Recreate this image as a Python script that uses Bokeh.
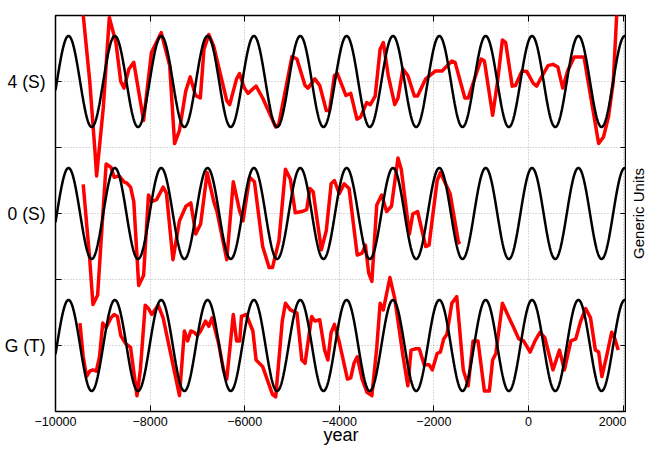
import numpy as np
from bokeh.plotting import figure
from bokeh.layouts import row
from bokeh.models import LinearAxis, FixedTicker
from bokeh.embed import file_html
from bokeh.resources import INLINE

# ---------------- data ----------------
x_ticks = [-10000, -8000, -6000, -4000, -2000, 0, 2000]
y_ticks = [0, 1, 2, 3, 4, 5, 6]
y_label_ticks = [1, 3, 5]
y_plain_ticks = [0, 2, 4, 6]
y_tick_labels = {1: "G (T)", 3: "0 (S)", 5: "4 (S)"}
panel_base = {"4 (S)": 5, "0 (S)": 3, "G (T)": 1}

# model sinusoid parameters (same in every panel)
model_period = 980
model_peak_year = -9725
model_amplitude = 0.69

# red series: top panel "4 (S)"
top_years = [-9483, -9276, -9172, -9131, -8990, -8862, -8723, -8620, -8552, -8448,
             -8345, -8241, -8138, -7972, -7765, -7586, -7482, -7379, -7248, -7151,
             -7041, -6938, -6861, -6758, -6654, -6379, -6317, -6172, -6110, -6007,
             -5930, -5759, -5620, -5345, -5283, -5000, -4896, -4724, -4662, -4517,
             -4414, -4275, -4207, -4103, -4041, -3861, -3758, -3627, -3551, -3421,
             -3344, -3241, -3137, -3069, -2965, -2827, -2759, -2655, -2552, -2413,
             -2345, -2173, -1966, -1827, -1621, -1552, -1345, -1275, -1000, -932,
             -758, -654, -551, -483, -344, -276, -137, -34, 103, 173,
             277, 413, 517, 620, 724, 827, 966, 1173, 1344, 1483,
             1586, 1690, 1793, 1862, 1917]
top_vals = [1.51, 0.00, -0.99, -1.43, -0.40, 0.97, 0.59, 0.00, -0.10, 0.19,
            0.29, -0.15, -0.59, 0.44, 0.74, 0.24, -0.94, -0.74, -0.15, 0.07,
            -0.21, -0.25, 0.49, 0.71, 0.53, -0.29, -0.35, 0.04, 0.12, -0.10,
            -0.18, -0.07, -0.25, -0.69, -0.66, 0.38, 0.34, -0.06, -0.10, 0.04,
            -0.06, -0.44, -0.44, 0.09, 0.12, -0.21, -0.18, -0.57, -0.54, -0.32,
            -0.35, -0.22, 0.49, 0.59, 0.09, -0.35, -0.25, 0.19, 0.09, -0.22,
            -0.22, 0.04, 0.16, 0.16, 0.31, 0.29, -0.25, -0.25, 0.34, 0.31,
            -0.51, 0.00, 0.63, 0.59, -0.07, -0.06, 0.16, 0.15, -0.03, -0.07,
            0.07, 0.24, 0.26, 0.22, -0.10, 0.16, 0.37, 0.37, -0.35, -0.94,
            -0.84, -0.54, 0.00, 0.97, 1.51]

# red series: middle panel "0 (S)"
mid_years = [-9414, -9276, -9208, -9110, -8930, -8827, -8759, -8655, -8552, -8490,
             -8413, -8345, -8241, -8138, -8034, -7972, -7863, -7724, -7655, -7517,
             -7379, -7242, -7139, -7035, -6932, -6793, -6654, -6586, -6379, -6241,
             -6104, -6034, -5897, -5794, -5620, -5483, -5413, -5276, -5138, -5034,
             -4931, -4792, -4689, -4621, -4552, -4379, -4275, -4172, -4103, -4000,
             -3897, -3793, -3621, -3518, -3448, -3379, -3311, -3208, -3104, -3000,
             -2897, -2759, -2690, -2517, -2448, -2345, -2173, -2103, -1931, -1863,
             -1656, -1482, -1449]
mid_vals = [0.44, -0.70, -1.38, -1.24, 0.75, 0.70, 0.55, 0.57, 0.48, 0.46,
            0.40, 0.18, -1.09, -0.94, 0.28, 0.18, 0.21, 0.40, 0.31, -0.70,
            -0.11, 0.11, 0.16, -0.31, -0.16, 0.62, 0.18, 0.03, -0.70, 0.48,
            0.03, -0.11, 0.55, 0.48, -0.50, -0.82, -0.82, -0.41, 0.67, 0.52,
            0.01, 0.03, 0.06, 0.38, 0.33, -0.55, -0.26, 0.45, 0.50, 0.30,
            0.45, 0.38, -0.63, -0.60, -0.48, -0.90, -1.03, 0.13, 0.28, 0.03,
            0.11, 0.84, 0.67, -0.31, -0.01, 0.03, -0.50, -0.48, 0.50, 0.62,
            0.30, -0.43, -0.46]

# red series: bottom panel "G (T)"
bot_years = [-9483, -9414, -9344, -9276, -9208, -9137, -9069, -9001, -8930, -8827,
             -8759, -8690, -8620, -8517, -8413, -8277, -8206, -8103, -8034, -7966,
             -7828, -7724, -7552, -7379, -7275, -7207, -7139, -7068, -7000, -6932,
             -6828, -6758, -6690, -6551, -6448, -6379, -6241, -6172, -6104, -6069,
             -5966, -5827, -5759, -5620, -5413, -5345, -5206, -5138, -5034, -4896,
             -4792, -4724, -4585, -4517, -4414, -4310, -4242, -4172, -4103, -4000,
             -3828, -3758, -3690, -3621, -3518, -3414, -3311, -3208, -3137, -3069,
             -2930, -2827, -2759, -2655, -2552, -2483, -2380, -2310, -2206, -2103,
             -2034, -1931, -1863, -1792, -1724, -1621, -1517, -1379, -1275, -1172,
             -1068, -932, -828, -758, -690, -551, -379, -311, -207, -104,
             35, 138, 242, 345, 517, 655, 759, 897, 1000, 1104,
             1208, 1311, 1414, 1483, 1551, 1655, 1758, 1827, 1897]
bot_vals = [0.34, -0.17, -0.47, -0.39, -0.37, -0.39, -0.17, 0.34, 0.27, 0.42,
            0.47, 0.44, 0.15, 0.03, -0.03, -0.76, -0.37, 0.61, 0.56, 0.47,
            0.61, 0.42, -0.17, -0.76, 0.22, 0.07, 0.22, 0.20, 0.15, 0.22,
            0.37, 0.29, 0.42, 0.03, -0.37, -0.51, 0.47, 0.07, 0.07, 0.44,
            0.47, 0.22, -0.22, -0.32, -0.74, -0.78, 0.37, 0.64, 0.54, 0.49,
            -0.22, -0.27, 0.44, 0.37, 0.39, -0.07, -0.22, 0.20, 0.32, 0.05,
            -0.51, -0.49, -0.27, -0.17, -0.51, -0.71, -0.76, -0.03, 0.64, 0.54,
            1.03, 0.71, 0.37, -0.15, -0.61, -0.07, -0.05, -0.05, -0.29, -0.29,
            -0.37, -0.12, -0.10, 0.10, 0.17, 0.64, 0.74, -0.37, -0.61, 0.07,
            0.07, -0.69, -0.69, -0.22, -0.12, 0.64, 0.37, 0.27, 0.10, 0.07,
            -0.10, 0.07, 0.20, 0.12, -0.37, -0.07, -0.37, 0.07, 0.10, 0.37,
            0.56, 0.42, -0.07, -0.10, -0.47, -0.15, 0.20, 0.10, -0.07]

x_start, x_end = -10000, 2072
FONT = "Liberation Sans"
TOP_BORDER = 15
BOTTOM_BORDER = 37


def tick_only_axis(ticks):
    """Axis that draws inward tick marks only (as minor ticks, so no labels)."""
    return LinearAxis(ticker=FixedTicker(ticks=[], minor_ticks=ticks),
                      major_tick_line_color=None, major_label_text_font_size="0px",
                      major_label_standoff=0, major_tick_in=0, major_tick_out=0,
                      minor_tick_in=6, minor_tick_out=0, minor_tick_line_color="black",
                      axis_line_color=None)


# ---------------- main figure ----------------
p = figure(width=626, height=448, output_backend="svg", toolbar_location=None,
           x_range=(x_start, x_end), y_range=(0, 6),
           min_border_left=55, min_border_right=0, min_border_top=TOP_BORDER,
           min_border_bottom=0)
p.background_fill_color = "white"
p.outline_line_color = "black"
p.outline_line_width = 1.5

# grids
p.xgrid.ticker = FixedTicker(ticks=x_ticks)
p.ygrid.ticker = FixedTicker(ticks=y_ticks)
for g in (p.xgrid, p.ygrid):
    g.grid_line_color = "#b5b5b5"
    g.grid_line_dash = "1 2"
    g.grid_line_width = 1

# bottom axis
xa = p.xaxis[0]
xa.ticker = FixedTicker(ticks=x_ticks)
xa.axis_label = "year"
xa.axis_label_text_font = FONT
xa.axis_label_text_font_style = "normal"
xa.axis_label_text_font_size = "18px"
xa.axis_label_text_color = "black"
xa.axis_label_standoff = -4
xa.major_label_text_font = FONT
xa.major_label_text_font_size = "12.5px"
xa.major_label_text_color = "black"
xa.major_label_standoff = 5
xa.major_tick_in = 6
xa.major_tick_out = 0
xa.minor_tick_line_color = None
xa.axis_line_color = None
xa.major_tick_line_color = "black"

# left axis: labelled ticks at panel centres, plain ticks between
ya = p.yaxis[0]
ya.ticker = FixedTicker(ticks=y_label_ticks, minor_ticks=y_plain_ticks)
ya.major_label_overrides = y_tick_labels
ya.major_label_text_font = FONT
ya.major_label_text_font_size = "17.5px"
ya.major_label_text_color = "black"
ya.major_label_standoff = 10
ya.major_tick_in = 6
ya.major_tick_out = 0
ya.minor_tick_in = 6
ya.minor_tick_out = 0
ya.minor_tick_line_color = "black"
ya.axis_line_color = None

# top and right axes: tick marks only
p.add_layout(tick_only_axis(x_ticks), "above")
p.add_layout(tick_only_axis(y_ticks), "right")

# ---------------- data glyphs ----------------
series = [("4 (S)", top_years, top_vals), ("0 (S)", mid_years, mid_vals),
          ("G (T)", bot_years, bot_vals)]
for name, yrs, vals in series:
    base = panel_base[name]
    p.line(yrs, [base + v for v in vals], line_color="#ff0000", line_width=3.5,
           line_join="round")

xs = np.linspace(x_start, x_end, 1500)
for name, _, _ in series:
    base = panel_base[name]
    ys = base + model_amplitude * np.cos(2 * np.pi * (xs - model_peak_year) / model_period)
    p.line(xs, ys, line_color="black", line_width=2.5)

# ---------------- narrow strip carrying the right-hand title ----------------
side = figure(width=20, height=448, output_backend="svg", toolbar_location=None,
              x_range=(0, 1), y_range=(0, 6),
              min_border_left=0, min_border_right=0, min_border_top=TOP_BORDER,
              min_border_bottom=BOTTOM_BORDER)
side.outline_line_color = None
side.xgrid.visible = False
side.ygrid.visible = False
side.xaxis.visible = False
sa = side.yaxis[0]
sa.ticker = FixedTicker(ticks=[])
sa.axis_label = "Generic Units"
sa.axis_label_text_font = FONT
sa.axis_label_text_font_style = "normal"
sa.axis_label_text_font_size = "15px"
sa.axis_label_text_color = "black"
sa.axis_label_standoff = 0
sa.major_label_text_font_size = "0px"
sa.major_label_standoff = 0
sa.major_tick_in = 0
sa.major_tick_out = 0
sa.major_tick_line_color = None
sa.minor_tick_line_color = None
sa.axis_line_color = None

layout = row(p, side, spacing=0)
open("out.html", "w").write(file_html(layout, INLINE))
